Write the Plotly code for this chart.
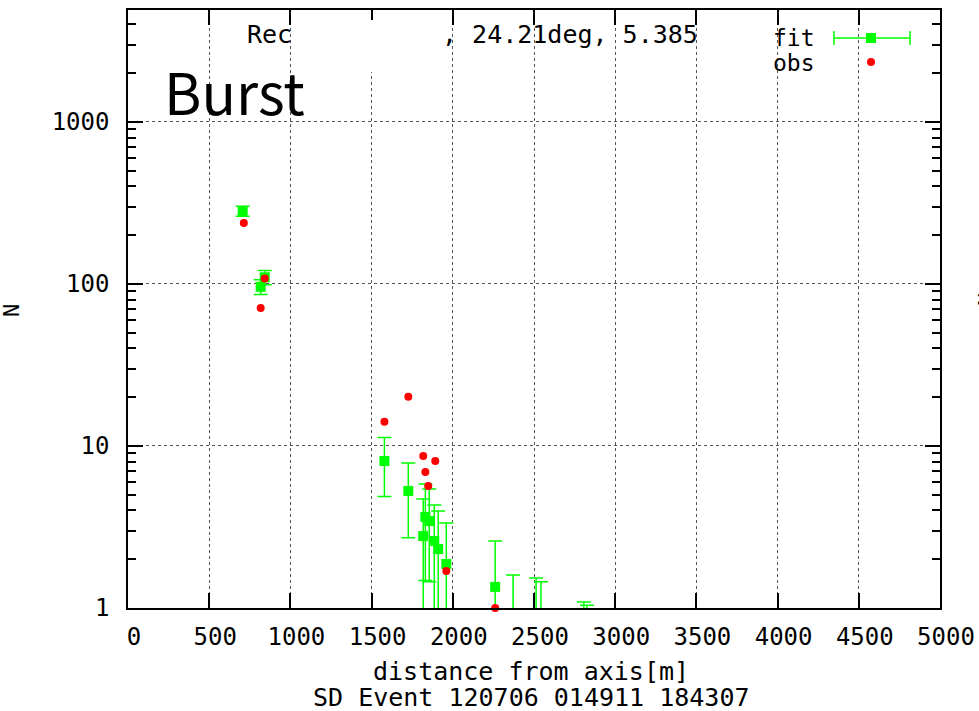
import plotly.graph_objects as go

# Lateral distribution of one SD event: fitted densities (with errors) and observed counts
fit_dist = [706, 817, 842, 1579, 1726, 1818, 1831, 1855, 1886, 1910, 1960,
            2261, 2371, 2513, 2543, 2807, 2826]
fit_n = [282, 96, 110, 8.08, 5.28, 2.78, 3.65, 3.44, 2.59, 2.31, 1.87,
         1.35, 0.6, 0.55, 0.5, 0.4, 0.35]
fit_err = [20, 10, 11, 3.2, 2.57, 1.93, 2.17, 1.99, 1.73, 1.66, 1.48,
           1.24, 1.0, 0.98, 0.95, 0.69, 0.69]

obs_dist = [713, 817, 842, 1579, 1726, 1818, 1831, 1849, 1892, 1960, 2261]
obs_n = [238, 71, 108, 14.1, 20.1, 8.67, 6.9, 5.66, 8.08, 1.69, 1.0]

x_ticks = list(range(0, 5001, 500))

W, H = 979, 711
L, R, T, B = 128, 940, 10, 608  # plot-area edges in pixels

GREEN = "#00ff00"
RED = "#ff0000"
MONO = "DejaVu Sans Mono"


def fx(px):
    return (px - L) / (R - L)


def fy(py):
    return (B - py) / (B - T)


fig = go.Figure()

fig.add_trace(go.Scatter(
    x=fit_dist, y=fit_n, mode="markers", name="fit",
    marker=dict(symbol="square", size=10, color=GREEN),
    error_y=dict(type="data", array=fit_err, color=GREEN, thickness=1.5, width=7),
    cliponaxis=True, showlegend=False,
))

fig.add_trace(go.Scatter(
    x=obs_dist, y=obs_n, mode="markers", name="obs",
    marker=dict(symbol="circle", size=8, color=RED),
    cliponaxis=False, showlegend=False,
))

axis_common = dict(
    showline=True, linecolor="black", linewidth=1.5, mirror="allticks",
    ticks="inside", ticklen=15, tickwidth=1.5, tickcolor="black",
    showgrid=True, gridcolor="#555555", gridwidth=1, griddash="dot",
    zeroline=False, automargin=False,
    tickfont=dict(family=MONO, size=24, color="black"),
)

fig.update_xaxes(
    range=[0, 5000], tickmode="array", tickvals=x_ticks,
    ticklabelstandoff=6, ticklabelshift=6, **axis_common,
)

fig.update_yaxes(
    type="log", range=[0, 3.691], dtick=1, exponentformat="none",
    ticklabelstandoff=12,
    minor=dict(dtick="D1", ticks="inside", ticklen=8, tickwidth=1.5,
               tickcolor="black", showgrid=False),
    **axis_common,
)

shapes = [
    # blank patch over part of the header line
    dict(type="rect", xref="paper", yref="paper", x0=fx(317), x1=fx(445),
         y0=fy(72), y1=fy(20), fillcolor="white", line=dict(width=0), layer="above"),
    # legend sample for "fit": horizontal error bar with caps and a square
    dict(type="line", xref="paper", yref="paper", x0=fx(834), x1=fx(910),
         y0=fy(38), y1=fy(38), line=dict(color=GREEN, width=1.5)),
    dict(type="line", xref="paper", yref="paper", x0=fx(834), x1=fx(834),
         y0=fy(31), y1=fy(45), line=dict(color=GREEN, width=1.5)),
    dict(type="line", xref="paper", yref="paper", x0=fx(910), x1=fx(910),
         y0=fy(31), y1=fy(45), line=dict(color=GREEN, width=1.5)),
    dict(type="rect", xref="paper", yref="paper", x0=fx(866), x1=fx(876),
         y0=fy(43), y1=fy(33), fillcolor=GREEN, line=dict(width=0)),
    # legend sample for "obs"
    dict(type="circle", xref="paper", yref="paper", x0=fx(867), x1=fx(875),
         y0=fy(66), y1=fy(58), fillcolor=RED, line=dict(width=0)),
]


def label(text, px, py, size=24, family=MONO, xanchor="left", angle=0):
    return dict(text=text, xref="paper", yref="paper", x=fx(px), y=fy(py),
                xanchor=xanchor, yanchor="middle", showarrow=False,
                textangle=angle, font=dict(family=family, size=size, color="black"))


annotations = [
    label("Rec", 245, 35, size=25),
    label(", 24.21deg, 5.385", 440, 35, size=25),
    label("fit", 771, 38, size=23),
    label("obs", 771, 63, size=23),
    label("Burst", 162, 90, size=57, family="Noto Sans CJK JP"),
    label("distance from axis[m]", 531, 671, size=25, xanchor="center"),
    label("SD Event 120706 014911 184307", 531, 697, size=25, xanchor="center"),
    label("N", 11, 311, size=22, xanchor="center", angle=-90),
    label("N", 986, 300, size=22, xanchor="center", angle=-90),
]

fig.update_layout(
    width=W, height=H,
    margin=dict(l=L, r=W - R, t=T, b=H - B),
    paper_bgcolor="white", plot_bgcolor="white",
    shapes=shapes, annotations=annotations,
    showlegend=False,
)

fig.write_html("out.html")
